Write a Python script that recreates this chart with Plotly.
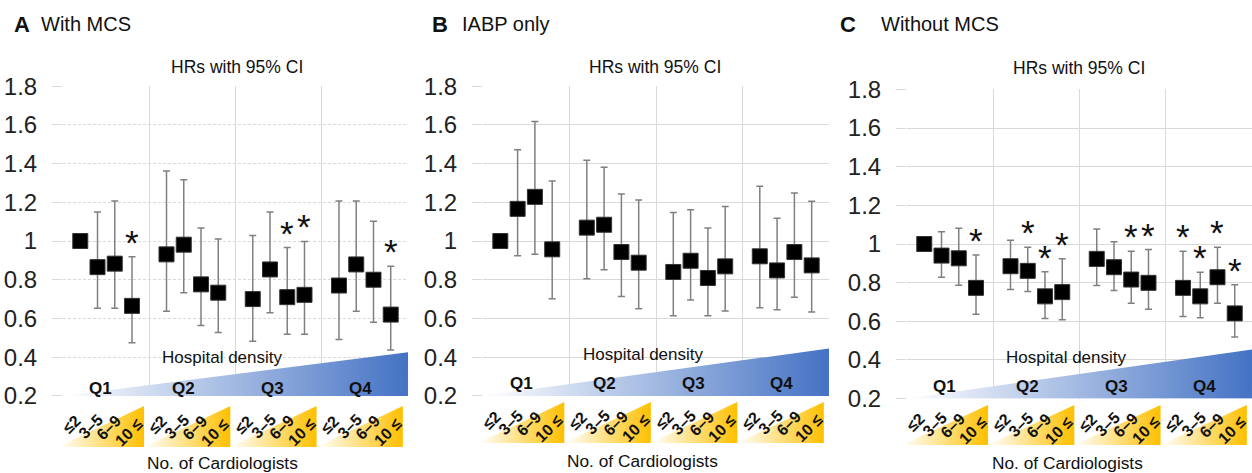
import plotly.graph_objects as go

W, H = 1252, 473

# ---------------- data ----------------
quartiles = ['Q1', 'Q2', 'Q3', 'Q4']
cardio_groups = ['≤2', '3–5', '6–9', '10 ≤']
y_ticks = [0.2, 0.4, 0.6, 0.8, 1.0, 1.2, 1.4, 1.6, 1.8]
y_ticktext = ['0.2', '0.4', '0.6', '0.8', '1', '1.2', '1.4', '1.6', '1.8']

panel_letters = ['A', 'B', 'C']
panel_titles = ['With MCS', 'IABP only', 'Without MCS']

# Panel A: With MCS
hr_A = [1.00, 0.865, 0.883, 0.665, 0.931, 0.981, 0.776, 0.733,
        0.700, 0.853, 0.710, 0.722, 0.770, 0.879, 0.800, 0.620]
lo_A = [None, 0.653, 0.653, 0.475, 0.637, 0.733, 0.563, 0.527,
        0.482, 0.629, 0.518, 0.518, 0.491, 0.637, 0.580, 0.437]
hi_A = [None, 1.150, 1.207, 0.919, 1.361, 1.316, 1.067, 1.010,
        1.028, 1.150, 0.966, 0.998, 1.207, 1.207, 1.102, 0.870]
sig_A = [0, 0, 0, 1, 0, 0, 0, 0, 0, 0, 1, 1, 0, 0, 0, 1]

# Panel B: IABP only
hr_B = [1.00, 1.166, 1.228, 0.957, 1.069, 1.084, 0.943, 0.888,
        0.840, 0.898, 0.809, 0.869, 0.921, 0.848, 0.943, 0.874]
lo_B = [None, 0.924, 0.931, 0.702, 0.805, 0.852, 0.714, 0.650,
        0.614, 0.695, 0.614, 0.638, 0.655, 0.645, 0.709, 0.633]
hi_B = [None, 1.471, 1.617, 1.310, 1.417, 1.381, 1.243, 1.212,
        1.147, 1.162, 1.067, 1.178, 1.283, 1.117, 1.248, 1.205]
sig_B = [0] * 16

# Panel C: Without MCS
hr_C = [1.00, 0.940, 0.926, 0.773, 0.885, 0.861, 0.729, 0.751,
        0.923, 0.880, 0.816, 0.799, 0.773, 0.729, 0.828, 0.641]
lo_C = [None, 0.828, 0.787, 0.636, 0.765, 0.754, 0.615, 0.608,
        0.785, 0.759, 0.694, 0.662, 0.625, 0.619, 0.694, 0.519]
hi_C = [None, 1.064, 1.082, 0.943, 1.019, 0.983, 0.857, 0.924,
        1.077, 1.012, 0.962, 0.971, 0.962, 0.854, 0.983, 0.789]
sig_C = [0, 0, 0, 1, 0, 1, 1, 1, 0, 0, 1, 1, 1, 1, 1, 1]

# ---------------- layout helpers ----------------
FONT = 'Liberation Sans, Arial, sans-serif'


def fx(px):
    return px / W


def fy(py):
    return 1 - py / H


panels = [
    dict(hr=hr_A, lo=lo_A, hi=hi_A, sig=sig_A, x0=63, x1=408, y0=86, y1=396,
         l0=406, l1=447, dens=0.425, dash='3px,2px',
         lx=12, tx=39, hrs=(237, 67), hd=(222, 357), qy=388, nc=(222.5, 463)),
    dict(hr=hr_B, lo=lo_B, hi=hi_B, sig=sig_B, x0=483, x1=829, y0=86, y1=396,
         l0=402, l1=443, dens=0.445, dash='solid',
         lx=430, tx=460, hrs=(655, 67), hd=(643, 354), qy=383, nc=(642.5, 461)),
    dict(hr=hr_C, lo=lo_C, hi=hi_C, sig=sig_C, x0=907, x1=1252, y0=89.3, y1=398.7,
         l0=405, l1=445, dens=0.454, dash='solid',
         lx=838, tx=879, hrs=(1079, 68.5), hd=(1066, 357.5), qy=386, nc=(1067.5, 462.5)),
]

q_label_off = [2.2, 7.0, 12.15, 17.25]
cg_off = [0.5, 1.6, 2.65, 3.8]
cg_ypx = [-22.3, -21, -20, -15]  # offset from lower-axis bottom

GRID = '#d9d9d9'

fig = go.Figure()
annotations = []
layout = {}

for i, p in enumerate(panels):
    k = i + 1
    kl = i + 4
    xs = '' if k == 1 else str(k)
    unit = (p['x1'] - p['x0']) / 20.0
    xpos = [q * 5 + c + 1 for q in range(len(quartiles)) for c in range(len(cardio_groups))]

    # main axes
    layout['xaxis' + xs] = dict(domain=[fx(p['x0']), fx(p['x1'])], range=[-0.001, 20.001],
                                tickvals=[0, 5, 10, 15, 20], showticklabels=False,
                                showgrid=True, gridcolor=GRID, gridwidth=1, zeroline=False,
                                showline=False, ticks='', anchor='y' + xs, fixedrange=True,
                                automargin=False)
    layout['yaxis' + xs] = dict(domain=[fy(p['y1']), fy(p['y0'])], range=[0.1995, 1.8005],
                                tickvals=y_ticks, ticktext=y_ticktext, ticks='outside',
                                ticklen=10, tickcolor=GRID, tickwidth=1,
                                showgrid=True, gridcolor=GRID, gridwidth=1, griddash=p['dash'],
                                zeroline=False, showline=False, anchor='x' + xs,
                                tickfont=dict(family=FONT, size=24, color='#222'),
                                ticklabelstandoff=10, fixedrange=True, automargin=False)
    # lower axes (for cardiologist triangles)
    layout['xaxis' + str(kl)] = dict(domain=[fx(p['x0'] - 0.5 * unit), fx(p['x1'])],
                                     range=[-0.5, 20], visible=False, anchor='y' + str(kl),
                                     fixedrange=True, automargin=False)
    layout['yaxis' + str(kl)] = dict(domain=[fy(p['l1']), fy(p['l0'])], range=[0, 1],
                                     visible=False, anchor='x' + str(kl), fixedrange=True,
                                     automargin=False)

    # hospital density gradient triangle
    fig.add_trace(go.Scatter(x=[0, 20, 20, 0], y=[0.2, p['dens'], 0.2, 0.2],
                             mode='lines', line=dict(width=0), fill='toself',
                             fillgradient=dict(type='horizontal',
                                               colorscale=[[0, '#ffffff'], [1, '#4472c4']]),
                             hoverinfo='skip', showlegend=False,
                             xaxis='x' + xs, yaxis='y' + xs))

    # cardiologist gradient triangles
    for q in range(len(quartiles)):
        a = q * 5 - 0.3
        b = q * 5 + 4.7
        fig.add_trace(go.Scatter(x=[a, b, b, a], y=[0, 1, 0, 0], mode='lines',
                                 line=dict(width=0), fill='toself',
                                 fillgradient=dict(type='horizontal',
                                                   colorscale=[[0, '#ffffff'], [1, '#ffc000']]),
                                 hoverinfo='skip', showlegend=False,
                                 xaxis='x' + str(kl), yaxis='y' + str(kl)))
        for c, lab in enumerate(cardio_groups):
            annotations.append(dict(
                xref='paper', yref='paper',
                x=fx(p['x0'] + unit * (q * 5 + cg_off[c])), y=fy(p['l1'] + cg_ypx[c]),
                text='<b>' + lab + '</b>', showarrow=False, textangle=-45,
                xanchor='center', yanchor='middle',
                font=dict(family=FONT, size=16, color='#111')))
        annotations.append(dict(
            xref='paper', yref='paper', x=fx(p['x0'] + unit * q_label_off[q]), y=fy(p['qy']),
            text='<b>' + quartiles[q] + '</b>', showarrow=False,
            xanchor='center', yanchor='middle', font=dict(family=FONT, size=17, color='#111')))

    # HR markers with CI
    ep = [(h - m) if h is not None else 0 for h, m in zip(p['hi'], p['hr'])]
    em = [(m - l) if l is not None else 0 for l, m in zip(p['lo'], p['hr'])]
    fig.add_trace(go.Scatter(x=xpos, y=p['hr'], mode='markers',
                             marker=dict(symbol='square', size=15, color='black',
                                         line=dict(color='#333', width=1)),
                             error_y=dict(type='data', symmetric=False, array=ep, arrayminus=em,
                                          color='#808080', thickness=1.5, width=3.5),
                             showlegend=False, xaxis='x' + xs, yaxis='y' + xs))

    # significance stars
    for xv, hv, s in zip(xpos, p['hi'], p['sig']):
        if s:
            annotations.append(dict(xref='x' + xs, yref='y' + xs, x=xv, y=hv, text='*',
                                    showarrow=False, xanchor='center', yanchor='bottom',
                                    yshift=-7, font=dict(family=FONT, size=35, color='#111')))

    # texts
    annotations.append(dict(xref='paper', yref='paper', x=fx(p['lx']), y=fy(24),
                            text='<b>' + panel_letters[i] + '</b>', showarrow=False,
                            xanchor='left', yanchor='middle',
                            font=dict(family=FONT, size=22, color='#111')))
    annotations.append(dict(xref='paper', yref='paper', x=fx(p['tx']), y=fy(24),
                            text=panel_titles[i], showarrow=False,
                            xanchor='left', yanchor='middle',
                            font=dict(family=FONT, size=20, color='#111')))
    annotations.append(dict(xref='paper', yref='paper', x=fx(p['hrs'][0]), y=fy(p['hrs'][1]),
                            text='HRs with 95% CI', showarrow=False,
                            xanchor='center', yanchor='middle',
                            font=dict(family=FONT, size=17.5, color='#111')))
    annotations.append(dict(xref='paper', yref='paper', x=fx(p['hd'][0]), y=fy(p['hd'][1]),
                            text='Hospital density', showarrow=False,
                            xanchor='center', yanchor='middle',
                            font=dict(family=FONT, size=17, color='#111')))
    annotations.append(dict(xref='paper', yref='paper', x=fx(p['nc'][0]), y=fy(p['nc'][1]),
                            text='No. of Cardiologists', showarrow=False,
                            xanchor='center', yanchor='middle',
                            font=dict(family=FONT, size=17.3, color='#111')))

fig.update_layout(width=W, height=H,
                  margin=dict(l=0, r=0, t=0, b=0, pad=0, autoexpand=False),
                  paper_bgcolor='white', plot_bgcolor='white',
                  annotations=annotations, showlegend=False, **layout)

fig.write_html('out.html', config={'displayModeBar': False})
